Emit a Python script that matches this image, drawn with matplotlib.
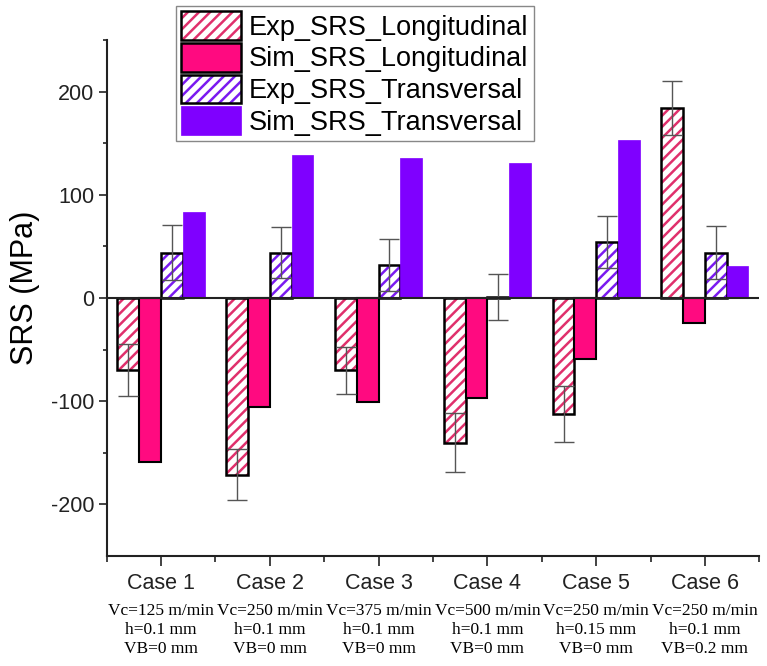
#!/usr/bin/env python3
"""
Surface residual stress (SRS) bar chart: experiment vs simulation,
longitudinal and transversal directions for six cutting cases.
"""

import matplotlib
matplotlib.use('Agg')
import matplotlib.pyplot as plt
from matplotlib.patches import Patch
import numpy as np

plt.rcParams['font.family'] = ['Liberation Sans', 'DejaVu Sans']
plt.rcParams['hatch.linewidth'] = 1.8
plt.rcParams['axes.unicode_minus'] = False

# ---- data -------------------------------------------------------------
cases = ['Case 1', 'Case 2', 'Case 3', 'Case 4', 'Case 5', 'Case 6']
conditions = [
    'Vc=125 m/min\nh=0.1 mm\nVB=0 mm',
    'Vc=250 m/min\nh=0.1 mm\nVB=0 mm',
    'Vc=375 m/min\nh=0.1 mm\nVB=0 mm',
    'Vc=500 m/min\nh=0.1 mm\nVB=0 mm',
    'Vc=250 m/min\nh=0.15 mm\nVB=0 mm',
    'Vc=250 m/min\nh=0.1 mm\nVB=0.2 mm',
]
exp_long = [-70, -171, -70, -140, -112, 184]
exp_long_err = [25, 25, 23, 29, 27, 26]
sim_long = [-159, -106, -101, -97, -59, -24]
exp_trans = [44, 44, 32, 1, 54, 44]
exp_trans_err = [27, 25, 25, 22, 25, 26]
sim_trans = [83, 139, 136, 131, 153, 31]

labels = ['Exp_SRS_Longitudinal', 'Sim_SRS_Longitudinal',
          'Exp_SRS_Transversal', 'Sim_SRS_Transversal']

pink = '#FF0A80'
pink_hatch = '#E0306C'
purple = '#7F00FF'
purple_hatch = '#7A1AF0'

# ---- figure -----------------------------------------------------------
fig = plt.figure(figsize=(7.67, 6.66), dpi=100)
ax = fig.add_axes([0.139, 0.165, 0.851, 0.775])

x = np.arange(1, len(cases) + 1)
w = 0.2

def hatched_bars(xpos, vals, hcolor):
    ax.bar(xpos, vals, w, color='white', edgecolor=hcolor, hatch='///',
           linewidth=0, zorder=2)
    ax.bar(xpos, vals, w, fill=False, edgecolor='black', linewidth=1.8,
           zorder=3)

hatched_bars(x - 0.3, exp_long, pink_hatch)
ax.bar(x - 0.1, sim_long, w, color=pink, edgecolor='black', linewidth=1.5,
       zorder=3)
hatched_bars(x + 0.1, exp_trans, purple_hatch)
ax.bar(x + 0.3, sim_trans, w, color=purple, edgecolor=purple, linewidth=0.5,
       zorder=3)

# error bars on the experimental values
ax.errorbar(x - 0.3, exp_long, yerr=exp_long_err, fmt='none', ecolor='#555555',
            elinewidth=1, capsize=7, capthick=1, zorder=4)
ax.errorbar(x + 0.1, exp_trans, yerr=exp_trans_err, fmt='none',
            ecolor='#555555', elinewidth=1, capsize=7, capthick=1, zorder=4)

ax.axhline(0, color='#222222', linewidth=1.5, zorder=5)

# axes styling
ax.set_xlim(0.5, 6.5)
ax.set_ylim(-250, 250)
ax.spines['top'].set_visible(False)
ax.spines['right'].set_visible(False)
for s in ('left', 'bottom'):
    ax.spines[s].set_linewidth(1.5)
    ax.spines[s].set_color('#222222')

ax.set_yticks([-200, -100, 0, 100, 200])
ax.set_yticks([-150, -50, 50, 150, 250], minor=True)
ax.set_xticks(x)
ax.set_xticklabels(cases)
ax.set_xticks(np.arange(0.5, 7.0, 1.0), minor=True)
ax.tick_params(axis='both', which='major', direction='out', width=1.2,
               colors='#222222', labelsize=15.5)
ax.tick_params(axis='y', which='major', length=6, pad=3)
ax.tick_params(axis='y', which='minor', length=3, width=1.2, colors='#222222')
ax.tick_params(axis='x', which='major', length=7.5, pad=5, labelsize=15.5)
ax.tick_params(axis='x', which='minor', length=4, width=1.2, colors='#222222')

ax.set_ylabel('SRS (MPa)', fontsize=22)
ax.yaxis.set_label_coords(-0.102, 0.519)

# machining conditions below each case
for xi, cond in zip(x, conditions):
    ax.text(xi, -0.1434, cond, transform=ax.get_xaxis_transform(),
            ha='center', va='center', fontsize=12.5,
            family=['Liberation Serif', 'DejaVu Serif'], linespacing=1.25)

# legend (sits above the axes, partly outside)
handles = [
    (Patch(facecolor='white', edgecolor=pink_hatch, hatch='///', linewidth=0),
     Patch(fill=False, edgecolor='black', linewidth=1.8)),
    Patch(facecolor=pink, edgecolor='black', linewidth=1.8),
    (Patch(facecolor='white', edgecolor=purple_hatch, hatch='///', linewidth=0),
     Patch(fill=False, edgecolor='black', linewidth=1.8)),
    Patch(facecolor=purple, edgecolor=purple, linewidth=0.5),
]
leg = fig.legend(handles, labels, loc='upper left',
                 bbox_to_anchor=(176 / 767, 1 - 6 / 666), fontsize=19.5,
                 handlelength=2.2, handleheight=1.25, labelspacing=0.08,
                 handletextpad=0.3, borderpad=0.2, borderaxespad=0,
                 fancybox=False, framealpha=1)
leg.get_frame().set_edgecolor('#888888')
leg.get_frame().set_linewidth(1)

plt.savefig('out.png', dpi=100)
plt.close()
